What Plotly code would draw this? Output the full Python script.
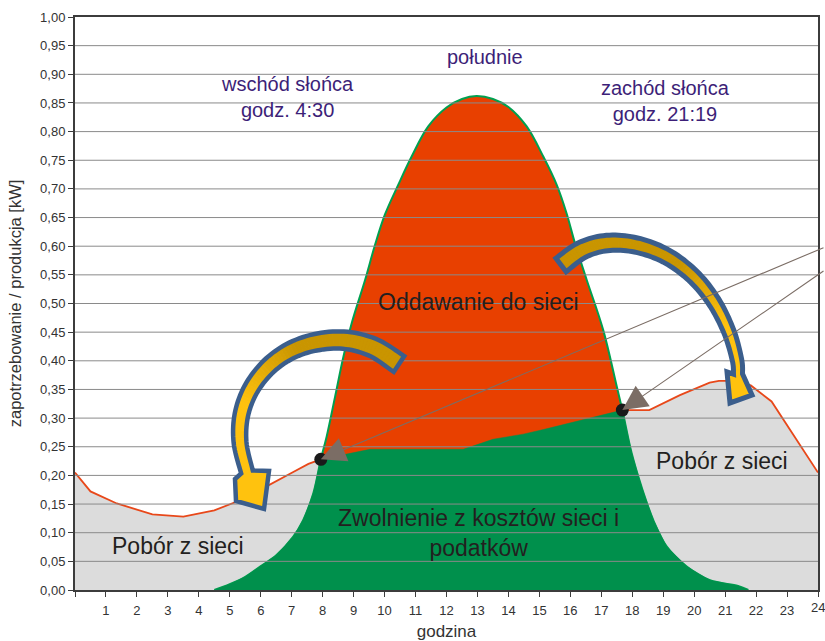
import plotly.graph_objects as go

# ---------------- data ----------------
hours = list(range(0, 25))
tick_labels = [""] + [str(h) for h in range(1, 25)]

demand_x = [0, 0.5, 1.35, 2.5, 3.5, 4.5, 5.4, 6.3, 7.05, 7.54, 7.94,
            9.53, 12.54, 13.5, 14.48, 15.13, 16.63, 17.5, 17.68,
            18.55, 19.54, 20.5, 20.8, 21.3, 21.83, 22.5, 24]
demand_y = [0.205, 0.172, 0.151, 0.132, 0.128, 0.139, 0.158, 0.185, 0.206, 0.220, 0.228,
            0.2455, 0.2455, 0.263, 0.272, 0.280, 0.300, 0.311, 0.314,
            0.314, 0.340, 0.362, 0.365, 0.365, 0.357, 0.329, 0.205]

prod_x = [4.5, 5.0, 5.5, 5.98, 6.51, 7.05, 7.37, 7.7, 7.94, 8.13, 8.40, 8.67, 8.94,
          9.37, 9.69, 10.01, 10.44, 10.87, 11.41, 12.0, 12.5, 12.97, 13.5, 14.0,
          14.59, 15.13, 15.56, 15.88, 16.15, 16.53, 17.06, 17.5, 17.68, 17.98,
          18.30, 18.68, 19.11, 19.76, 20.51, 21.42, 21.75]
prod_y = [0.0, 0.010, 0.023, 0.041, 0.061, 0.093, 0.122, 0.169, 0.228, 0.268, 0.337, 0.407, 0.466,
          0.541, 0.602, 0.655, 0.707, 0.756, 0.809, 0.842, 0.857, 0.862, 0.857, 0.843,
          0.809, 0.756, 0.707, 0.657, 0.605, 0.541, 0.454, 0.355, 0.314, 0.239,
          0.180, 0.122, 0.076, 0.041, 0.017, 0.007, 0.0]

cross_x = [7.94, 17.68]
cross_y = [0.228, 0.314]

# self-consumption area: production before/after the crossings, demand between them
green_x, green_y = [], []
for x, y in zip(prod_x, prod_y):
    if x <= cross_x[0]:
        green_x.append(x); green_y.append(y)
for x, y in zip(demand_x, demand_y):
    if cross_x[0] < x < cross_x[1]:
        green_x.append(x); green_y.append(y)
for x, y in zip(prod_x, prod_y):
    if x >= cross_x[1]:
        green_x.append(x); green_y.append(y)

# ---------------- geometry helpers (page pixel -> data) ----------------
L, R, T, B = 75, 818, 17, 590      # plot area in page pixels
W, H = 825, 641

def fx(px):
    return (px - L) / (R - L) * 24.0
def fy(py):
    return (B - py) / (B - T) * 1.0

def catmull(pts, n=10):
    P = [pts[0]] + pts + [pts[-1]]
    out = []
    for i in range(1, len(P) - 2):
        p0, p1, p2, p3 = P[i - 1], P[i], P[i + 1], P[i + 2]
        for k in range(n):
            t = k / n
            t2, t3 = t * t, t * t * t
            pt = []
            for d in range(2):
                pt.append(0.5 * (2 * p1[d] + (-p0[d] + p2[d]) * t
                                 + (2 * p0[d] - 5 * p1[d] + 4 * p2[d] - p3[d]) * t2
                                 + (-p0[d] + 3 * p1[d] - 3 * p2[d] + p3[d]) * t3))
            out.append(tuple(pt))
    out.append(pts[-1])
    return out

def path_of(pts):
    return "M " + " L ".join(f"{fx(x):.4f},{fy(y):.4f}" for x, y in pts) + " Z"

def hex2rgb(h):
    h = h.lstrip('#')
    return tuple(int(h[i:i + 2], 16) for i in (0, 2, 4))

def lerp_col(c0, c1, t):
    a, b = hex2rgb(c0), hex2rgb(c1)
    return "rgb(%d,%d,%d)" % tuple(round(a[i] + (b[i] - a[i]) * t) for i in range(3))

def arrow_shapes(ctrl, w0, w1, head, g0, g1, c_dark, c_light, outline, ow):
    c = catmull(ctrl)
    n = len(c)
    Ls = [0.0]
    for i in range(1, n):
        Ls.append(Ls[-1] + ((c[i][0] - c[i - 1][0]) ** 2 + (c[i][1] - c[i - 1][1]) ** 2) ** 0.5)
    tot = Ls[-1]
    A, Bs = [], []
    for i in range(n):
        i0, i1 = max(i - 1, 0), min(i + 1, n - 1)
        tx, ty = c[i1][0] - c[i0][0], c[i1][1] - c[i0][1]
        m = (tx * tx + ty * ty) ** 0.5
        tx, ty = tx / m, ty / m
        nx, ny = -ty, tx
        s = Ls[i] / tot
        w = w0 + (w1 - w0) * s
        A.append((c[i][0] + nx * w / 2, c[i][1] + ny * w / 2))
        Bs.append((c[i][0] - nx * w / 2, c[i][1] - ny * w / 2))
    hd = list(head)
    d0 = (hd[0][0] - A[-1][0]) ** 2 + (hd[0][1] - A[-1][1]) ** 2
    d1 = (hd[-1][0] - A[-1][0]) ** 2 + (hd[-1][1] - A[-1][1]) ** 2
    if d0 > d1:
        hd = hd[::-1]
    shapes = []
    for i in range(n - 1):
        s = Ls[i] / tot
        t = min(max((s - g0) / (g1 - g0), 0), 1)
        col = lerp_col(c_dark, c_light, t)
        quad = [A[i], A[i + 1], Bs[i + 1], Bs[i]]
        shapes.append(dict(type="path", path=path_of(quad), xref="x", yref="y",
                           fillcolor=col, line=dict(color=col, width=1), layer="above"))
    shapes.append(dict(type="path", path=path_of([A[-1]] + hd + [Bs[-1]]), xref="x", yref="y",
                       fillcolor=c_light, line=dict(color=c_light, width=1), layer="above"))
    shapes.append(dict(type="path", path=path_of(A + hd + Bs[::-1]), xref="x", yref="y",
                       fillcolor="rgba(0,0,0,0)", line=dict(color=outline, width=ow), layer="above"))
    return shapes

# ---------------- figure ----------------
GRAY = "#dcdcdc"
RED = "#e84000"
GREEN = "#00904c"
LINE_RED = "#e8481a"
SANS = "Liberation Sans, Arial, sans-serif"

fig = go.Figure()
fig.add_trace(go.Scatter(x=demand_x, y=demand_y, mode="lines", fill="tozeroy",
                         fillcolor=GRAY, line=dict(color=LINE_RED, width=1.8),
                         hoverinfo="skip", showlegend=False))
fig.add_trace(go.Scatter(x=prod_x, y=prod_y, mode="lines", fill="tozeroy",
                         fillcolor=RED, line=dict(color="#00a050", width=2, shape="spline", smoothing=1.0),
                         hoverinfo="skip", showlegend=False))
fig.add_trace(go.Scatter(x=green_x, y=green_y, mode="lines", fill="tozeroy",
                         fillcolor=GREEN, line=dict(color=GREEN, width=0.5),
                         hoverinfo="skip", showlegend=False))
fig.add_trace(go.Scatter(x=cross_x, y=cross_y, mode="markers",
                         marker=dict(color="#1a1a1a", size=13),
                         hoverinfo="skip", showlegend=False))

shapes = []
for k in range(1, 20):
    shapes.append(dict(type="line", xref="paper", yref="y", x0=0, x1=1, y0=k * 0.05, y1=k * 0.05,
                       line=dict(color="#8a8a8a", width=1), layer="above"))

# curved arrows (decoration)
left_ctrl = [(399, 364), (372, 347), (340, 340), (305, 345), (276, 360),
             (254, 384), (242, 412), (240, 442), (247, 472)]
left_head = [(235, 479), (236, 501), (264, 509), (269, 471)]
right_ctrl = [(561, 265), (582, 250), (607, 243), (636, 245), (666, 256),
              (693, 276), (714, 302), (729, 332), (737, 360), (738, 374)]
right_head = [(727, 372), (730, 403), (752, 395)]
shapes += arrow_shapes(left_ctrl, 19, 12, left_head, 0.42, 0.72,
                       "#c99500", "#ffc20e", "#3b5e8c", 4.5)
shapes += arrow_shapes(right_ctrl, 17, 9, right_head, 0.50, 0.80,
                       "#c99500", "#ffc20e", "#3b5e8c", 5)

TXT = "#231f20"
PURPLE = "#3d1f78"
ann = []
ann.append(dict(x=fx(287), y=fy(97), text="wschód słońca<br>godz. 4:30", showarrow=False,
                font=dict(family=SANS, size=20, color=PURPLE)))
ann.append(dict(x=fx(485), y=fy(57), text="południe", showarrow=False,
                font=dict(family=SANS, size=20, color=PURPLE)))
ann.append(dict(x=fx(665), y=fy(101), text="zachód słońca<br>godz. 21:19", showarrow=False,
                font=dict(family=SANS, size=20, color=PURPLE)))
ann.append(dict(x=fx(478), y=fy(302), text="Oddawanie do sieci", showarrow=False,
                font=dict(family=SANS, size=23, color=TXT)))
ann.append(dict(x=fx(478), y=fy(533), text="Zwolnienie z kosztów sieci i<br>podatków", showarrow=False,
                font=dict(family=SANS, size=23, color=TXT)))
ann.append(dict(x=fx(178), y=fy(546), text="Pobór z sieci", showarrow=False,
                font=dict(family=SANS, size=23, color=TXT)))
ann.append(dict(x=fx(722), y=fy(461), text="Pobór z sieci", showarrow=False,
                font=dict(family=SANS, size=23, color=TXT)))
# last tick label sits on the figure edge; plotly would drop it, so place it as text
ann.append(dict(x=hours[-1], y=0, xref="x", yref="paper", yanchor="top", yshift=-8,
                text=tick_labels[-1], showarrow=False,
                font=dict(family=SANS, size=13, color="#333333")))
# pointer lines from the right edge to the crossing points
for i, tail_y in enumerate([247, 270]):
    px = L + cross_x[i] / 24 * (R - L)
    py = B - cross_y[i] * (B - T)
    ann.append(dict(x=cross_x[i], y=cross_y[i], ax=826 - px, ay=tail_y - py, text="",
                    showarrow=True, arrowhead=2, arrowsize=4.5, arrowwidth=1.1,
                    arrowcolor="#7b6d65", standoff=0))

shown_ticks = tick_labels[:-1] + [""]

fig.update_layout(
    width=W, height=H,
    margin=dict(l=L, r=W - R, t=T, b=H - B, autoexpand=False),
    paper_bgcolor="white", plot_bgcolor="white",
    separators=", ",
    shapes=shapes, annotations=ann,
    font=dict(family=SANS, color="#333333"),
    xaxis=dict(range=[0, 24], tickmode="array", tickvals=hours, ticktext=shown_ticks,
               automargin=False,
               showgrid=False, zeroline=False, showline=True, mirror=True,
               linecolor="#3c3c3c", linewidth=2, ticks="outside", ticklen=5,
               tickcolor="#3c3c3c", tickfont=dict(size=13, color="#333333"),
               ticklabelstandoff=2, layer="above traces",
               title=dict(text="godzina", standoff=10,
                          font=dict(family=SANS, size=17, color="#333333"))),
    yaxis=dict(range=[0, 1], dtick=0.05, tick0=0, tickformat=".2f",
               automargin=False,
               showgrid=False, zeroline=False, showline=True, mirror=True,
               linecolor="#3c3c3c", linewidth=2, ticks="outside", ticklen=5,
               tickcolor="#3c3c3c", tickfont=dict(size=13, color="#333333"),
               layer="above traces",
               title=dict(text="zapotrzebowanie / produkcja [kW]", standoff=14,
                          font=dict(family=SANS, size=16.5, color="#333333"))),
)

fig.write_html("out.html", config={"displayModeBar": False},
               post_script="document.body.style.margin='0px';"
                           "document.documentElement.style.overflow='hidden';")
